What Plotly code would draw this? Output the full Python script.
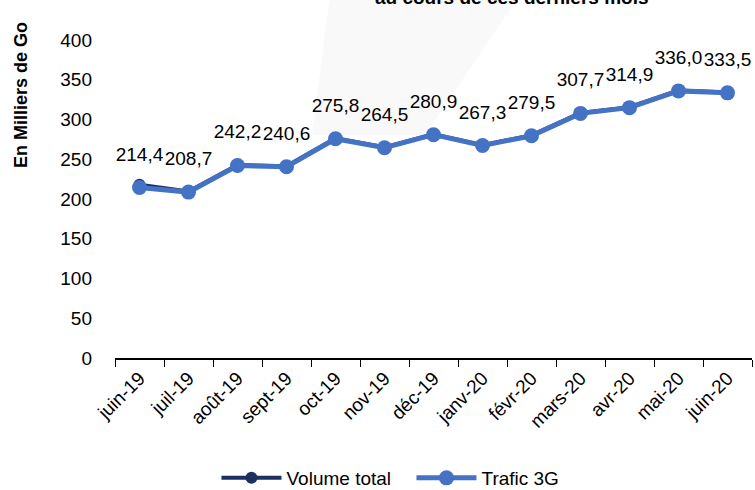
import plotly.graph_objects as go

months = ["juin-19", "juil-19", "août-19", "sept-19", "oct-19", "nov-19", "déc-19",
          "janv-20", "févr-20", "mars-20", "avr-20", "mai-20", "juin-20"]
volume_total = [217.8, 209.5, 242.8, 241.2, 276.3, 265.0, 281.4, 267.8, 280.0, 308.2, 315.4, 336.5, 334.0]
trafic_3g = [214.4, 208.7, 242.2, 240.6, 275.8, 264.5, 280.9, 267.3, 279.5, 307.7, 314.9, 336.0, 333.5]
labels_3g = [f"{v:.1f}".replace(".", ",") for v in trafic_3g]

FONT = "Liberation Sans, Arial, sans-serif"

fig = go.Figure()
fig.add_trace(go.Scatter(
    x=months, y=volume_total, name="Volume total", mode="lines+markers",
    line=dict(color="#1b2f63", width=4), marker=dict(size=12, color="#1b2f63"),
))
fig.add_trace(go.Scatter(
    x=months, y=trafic_3g, name="Trafic 3G", mode="lines+markers",
    line=dict(color="#4472c4", width=5), marker=dict(size=15, color="#4472c4"),
))
# data labels for Trafic 3G (invisible larger markers give the label offset)
fig.add_trace(go.Scatter(
    x=months, y=trafic_3g, mode="markers+text", showlegend=False, hoverinfo="skip",
    marker=dict(size=34, color="rgba(0,0,0,0)"),
    text=labels_3g, textposition="top center",
    textfont=dict(size=19, color="#000000", family=FONT), cliponaxis=False,
))

W, H = 755, 490
ml, mr, mt, mb = 115, 3, 40, 132
pw, ph = W - ml - mr, H - mt - mb

def px(x):
    return (x - ml) / pw

def py(y):
    return (H - mb - y) / ph

# faint watermark shape in background
fig.add_shape(type="path", xref="paper", yref="paper", layer="below",
              path=f"M {px(330)} {py(-5)} L {px(520)} {py(-5)} L {px(425)} {py(135)} L {px(312)} {py(135)} Z",
              fillcolor="#f9f9f9", line=dict(width=0))

fig.add_annotation(text="<b>au cours de ces derniers mois</b>", xref="paper", yref="paper",
                   x=px(512), y=py(10), xanchor="center", yanchor="bottom", showarrow=False,
                   font=dict(size=19, family=FONT, color="#000"))
fig.add_annotation(text="<b>En Milliers de Go</b>", xref="paper", yref="paper",
                   x=px(21), y=py(95), xanchor="center", yanchor="middle", textangle=-90,
                   showarrow=False, font=dict(size=18, family=FONT, color="#000"))

fig.update_layout(
    width=W, height=H,
    margin=dict(l=ml, r=mr, t=mt, b=mb, autoexpand=False),
    paper_bgcolor="white", plot_bgcolor="rgba(0,0,0,0)",
    font=dict(family=FONT, color="#000"),
    showlegend=True,
    legend=dict(orientation="h", xref="container", yref="container", x=0.545, xanchor="center",
                y=(H - 478) / H, yanchor="middle", entrywidth=120,
                font=dict(size=19, family=FONT), itemwidth=60, bgcolor="rgba(0,0,0,0)"),
)
fig.update_xaxes(type="category", range=[-0.5, 12.5], showline=True, linecolor="#000", linewidth=1.5,
                 ticks="outside", tickson="boundaries", ticklen=7, tickcolor="#000",
                 tickangle=-45, tickfont=dict(size=19, family=FONT), showgrid=False, zeroline=False,
                 automargin=False)
fig.update_yaxes(range=[0, 400], dtick=50, showgrid=False, zeroline=False, showline=False,
                 ticks="", ticklabelstandoff=22, tickfont=dict(size=19, family=FONT), automargin=False)

fig.write_html("out.html", config={"displayModeBar": False},
               post_script="document.body.style.margin='0';")
